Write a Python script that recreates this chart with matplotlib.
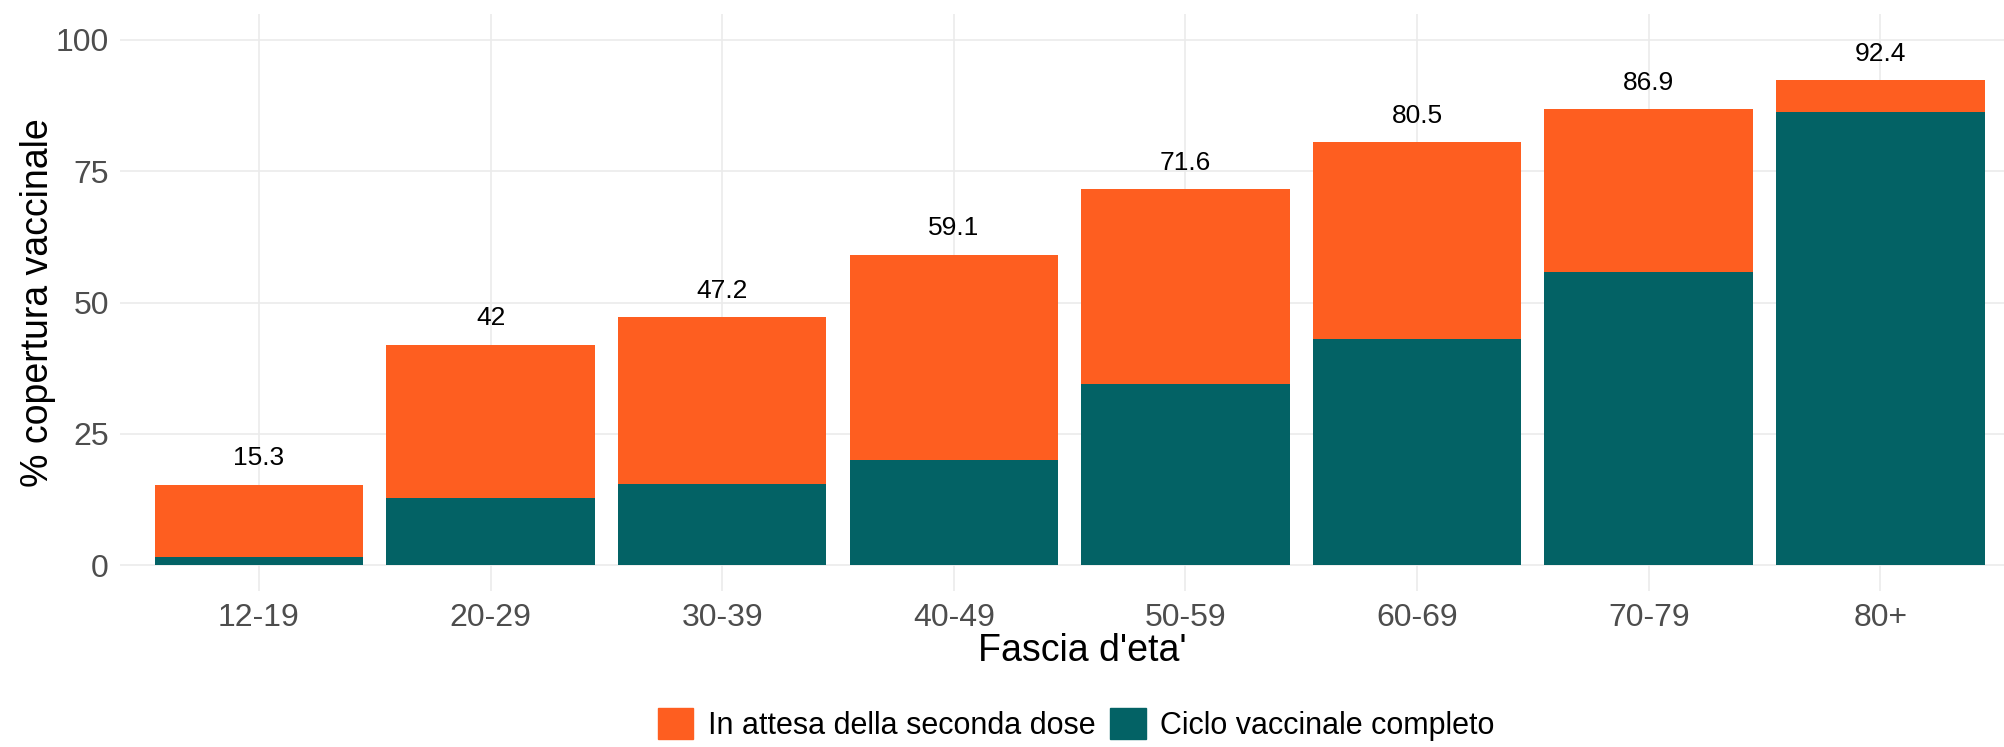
import numpy as np
import matplotlib
matplotlib.use("Agg")
import matplotlib.pyplot as plt
from matplotlib.patches import Patch

plt.rcParams['font.family'] = ['Liberation Sans', 'DejaVu Sans']

# data
fasce = ['12-19', '20-29', '30-39', '40-49', '50-59', '60-69', '70-79', '80+']
totale = [15.3, 42, 47.2, 59.1, 71.6, 80.5, 86.9, 92.4]
completo = [1.5, 12.8, 15.5, 20.0, 34.5, 43.1, 55.8, 86.3]
lbl_attesa = 'In attesa della seconda dose'
lbl_completo = 'Ciclo vaccinale completo'

col_attesa = '#FE5E20'
col_completo = '#036265'
grid_col = '#EBEBEB'

attesa = [t - c for t, c in zip(totale, completo)]
x = np.arange(len(fasce))

fig = plt.figure(figsize=(20.04, 7.47), dpi=100)
ax = fig.add_axes([120 / 2004, 156 / 747, (2004 - 120) / 2004, 577 / 747])

ax.bar(x, completo, width=0.9, color=col_completo, zorder=2)
ax.bar(x, attesa, bottom=completo, width=0.9, color=col_attesa, zorder=2)

for xi, t in zip(x, totale):
    ax.text(xi, t + 5, f'{t:g}', ha='center', va='center', fontsize=19, color='black')

ax.set_xlim(-0.6, 7.534)
ax.set_ylim(-4.95, 104.95)
ax.set_xticks(x)
ax.set_xticklabels(fasce)
ax.set_yticks([0, 25, 50, 75, 100])
ax.tick_params(axis='both', length=0, labelsize=23, labelcolor='#4D4D4D')
ax.tick_params(axis='x', pad=9)
ax.tick_params(axis='y', pad=8)
for s in ax.spines.values():
    s.set_visible(False)
ax.grid(True, color=grid_col, linewidth=1.2, zorder=0)
ax.set_axisbelow(True)

ax.set_xlabel("Fascia d'eta'", fontsize=27)
ax.set_ylabel('% copertura vaccinale', fontsize=27)
ax.xaxis.set_label_coords(0.511, -0.104)
ax.yaxis.set_label_coords(-0.0435, 0.5)
ax.xaxis.label.set_va('center')
ax.yaxis.label.set_va('center')

handles = [Patch(color=col_attesa), Patch(color=col_completo)]
fig.legend(handles, [lbl_attesa, lbl_completo], loc='center',
           bbox_to_anchor=(0.537, 0.03), ncol=2, frameon=False, fontsize=22,
           handlelength=1.15, handleheight=1.15, handletextpad=0.46,
           columnspacing=0.5, borderpad=0)

fig.savefig('out.png', dpi=100, facecolor='white')
